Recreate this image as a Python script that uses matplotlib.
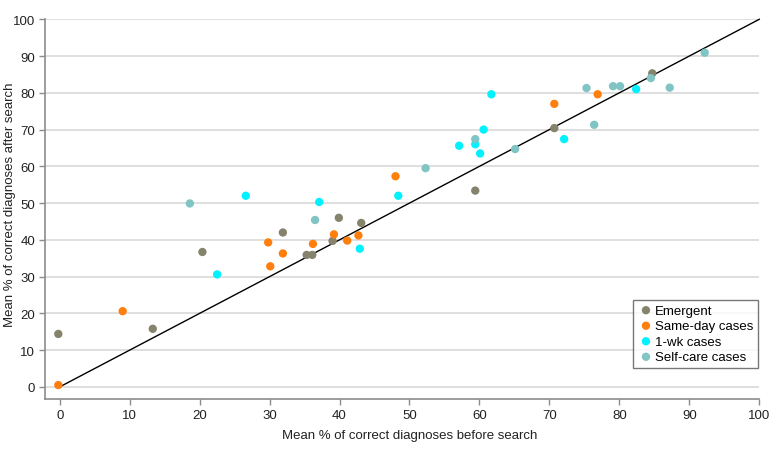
import matplotlib
matplotlib.use("Agg")
import matplotlib.pyplot as plt

plt.rcParams['font.family'] = ["Liberation Sans", "DejaVu Sans"]

# data: (before, after) per case group
emergent_x = [-0.2, 13.3, 20.4, 31.9, 35.3, 36.1, 39.0, 39.9, 43.1, 59.4, 70.7, 84.7]
emergent_y = [14.4, 15.8, 36.7, 42.0, 35.9, 35.9, 39.7, 46.0, 44.6, 53.4, 70.4, 85.3]

sameday_x = [-0.2, 9.0, 29.8, 30.1, 31.9, 36.2, 39.2, 41.1, 42.7, 48.0, 70.7, 76.9]
sameday_y = [0.5, 20.6, 39.3, 32.8, 36.3, 38.9, 41.5, 39.8, 41.2, 57.3, 77.0, 79.6]

week_x = [22.5, 26.6, 37.1, 42.9, 48.4, 57.1, 59.4, 60.1, 60.6, 61.7, 72.1, 82.4]
week_y = [30.6, 52.0, 50.3, 37.6, 52.0, 65.6, 66.0, 63.5, 70.0, 79.6, 67.4, 81.0]

selfcare_x = [18.6, 36.5, 52.3, 59.4, 65.1, 75.3, 76.4, 79.1, 80.1, 84.5, 87.2, 92.2]
selfcare_y = [49.9, 45.4, 59.5, 67.4, 64.7, 81.3, 71.3, 81.8, 81.8, 84.0, 81.4, 90.9]

groups = [
    ("Emergent", emergent_x, emergent_y, "#86836d"),
    ("Same-day cases", sameday_x, sameday_y, "#ff7f0e"),
    ("1-wk cases", week_x, week_y, "#00f2ff"),
    ("Self-care cases", selfcare_x, selfcare_y, "#80c4c4"),
]

fig = plt.figure(figsize=(7.83, 4.6), dpi=100)
ax = fig.add_axes([0.0575, 0.1304, 0.9122, 0.8255])

ax.set_xlim(-2.1, 100)
ax.set_ylim(-3.3, 100)
ax.set_xticks(range(0, 101, 10))
ax.set_yticks(range(0, 101, 10))
ax.grid(axis='y', color='#d9d9d9', linewidth=1.2)
ax.set_axisbelow(True)

for s in ['top', 'right']:
    ax.spines[s].set_visible(False)
for s in ['left', 'bottom']:
    ax.spines[s].set_color('#8c8c8c')
    ax.spines[s].set_linewidth(1.2)
ax.tick_params(colors='#8c8c8c', labelcolor='#222222', labelsize=9.5, length=4, width=1, pad=3)

ax.plot([0, 100], [0, 100], color='black', linewidth=1, clip_on=False, zorder=2)

for name, xs, ys, col in groups:
    ax.scatter(xs, ys, s=36, color=col, label=name, edgecolors='none', zorder=3, clip_on=False)

ax.set_xlabel("Mean % of correct diagnoses before search", fontsize=9.5, color='#222222')
ax.xaxis.set_label_coords(0.51, -0.079)
ax.set_ylabel("Mean % of correct diagnoses after search", fontsize=9.5, color='#222222')
ax.yaxis.set_label_coords(-0.04, 0.515)

leg = ax.legend(loc='lower right', bbox_to_anchor=(0.9985, 0.082), fancybox=False, edgecolor='#555555',
                fontsize=9.5, handletextpad=0.1, borderpad=0.35, labelspacing=0.25,
                handlelength=1.2, borderaxespad=0)
leg.get_frame().set_linewidth(1)

plt.savefig("out.png", dpi=100)
